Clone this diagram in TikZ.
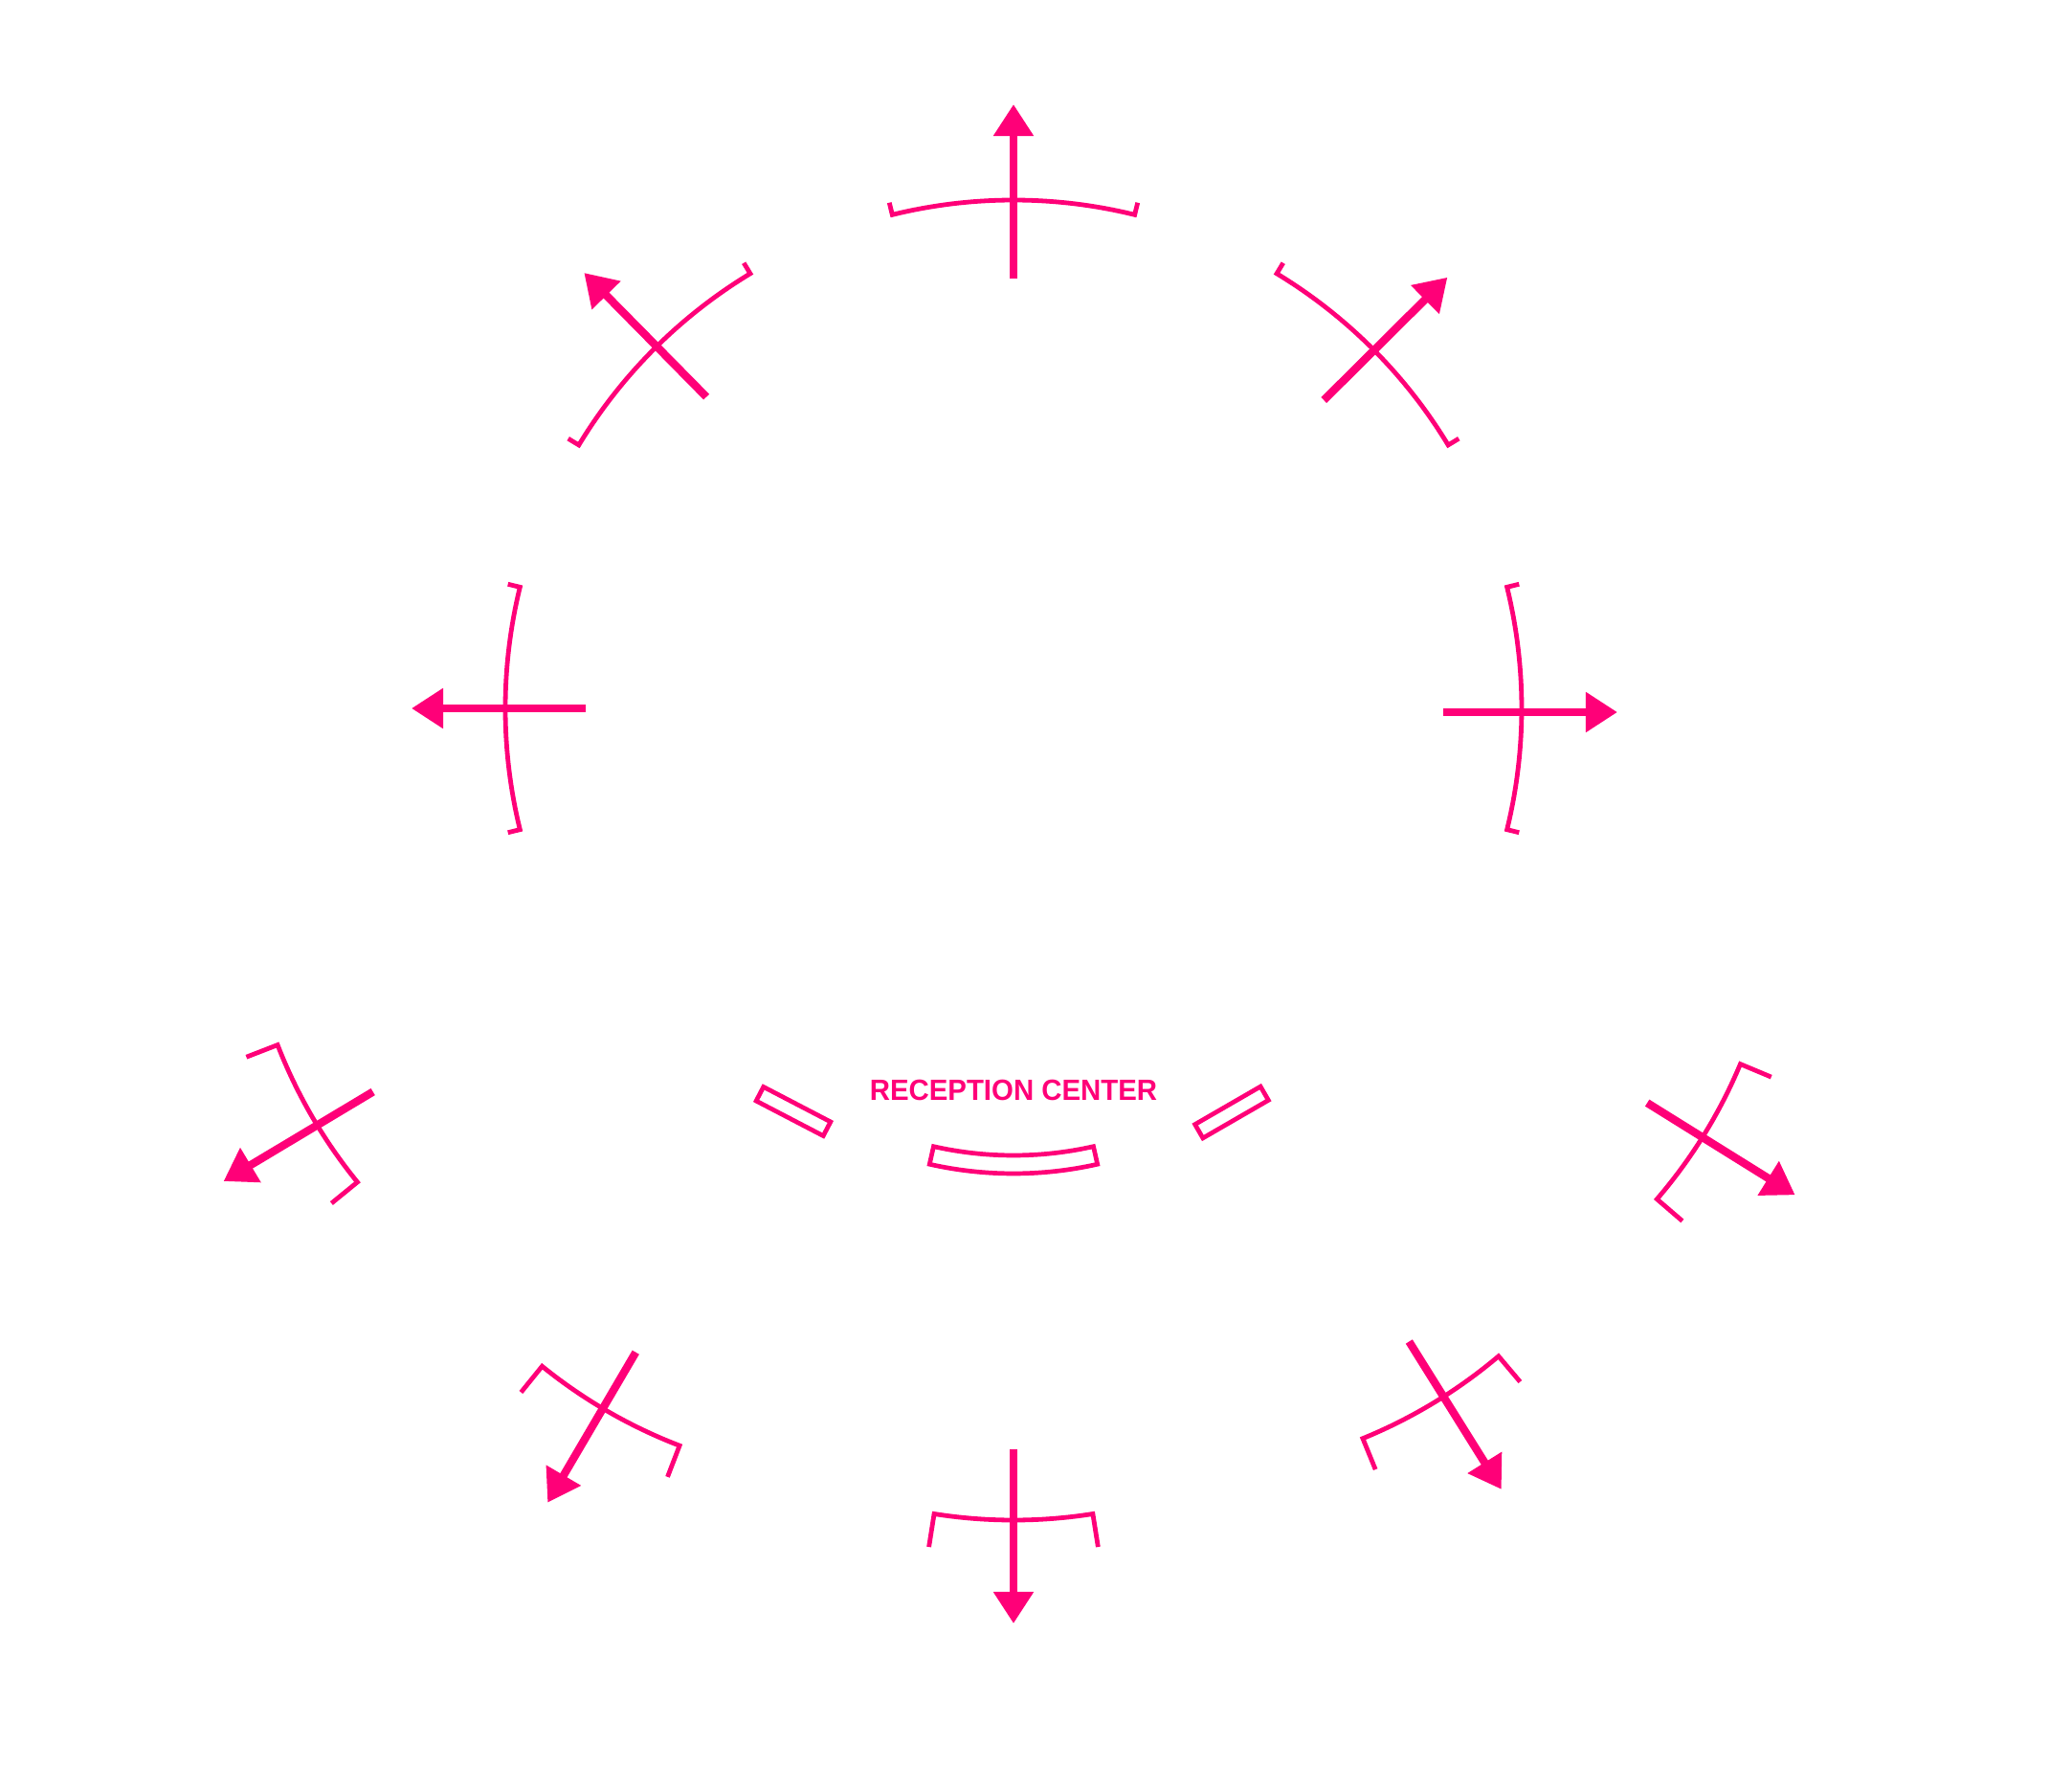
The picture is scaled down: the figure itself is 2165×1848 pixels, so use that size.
\documentclass[tikz,border=0pt]{standalone}
\usepackage{fontspec}
\setmainfont{Liberation Sans}
\usepackage{graphicx}
\usepackage{tikz}
\usetikzlibrary{arrows.meta}
\definecolor{exitpink}{HTML}{FF0078}

\begin{document}
\begin{tikzpicture}[x=0.01cm, y=0.01cm,
    >={Triangle[length=3.3mm, width=4mm]},
    wall/.style={draw=exitpink, line width=0.48mm},
    exit/.style={draw=exitpink, fill=exitpink, line width=0.83mm, ->},
    door/.style={draw=exitpink, line width=0.47mm, minimum width=7.9mm, minimum height=1.65mm, inner sep=0pt},
    lbl/.style={text=exitpink, font=\bfseries\fontsize{8.7}{10}\selectfont, inner sep=0pt}]
  \useasboundingbox (-1059,-1108) rectangle (1106,740);
  % inner ring of exits
  \foreach \a/\b/\o/\t/\h in {90/90/0/449/631, 135/134.6/0/457/639, 45/44.8/0/457/639, 180/180/0/447/629, 0/0/-4/449/631} {
    \draw[wall] (\a-13.8:544) -- (\a-13.8:531) arc[start angle=\a-13.8, end angle=\a+13.8, radius=531] -- (\a+13.8:544);
    \draw[exit, shift={(0,\o)}] (\b:\t) -- (\b:\h);
  }
  % outer ring of exits
  \foreach \a/\b/\t/\h in {210.2/210.9/780/962, 240/239.6/780/962, 270/270/774/956, 301.2/302/780/962, 328.3/328.1/780/962} {
    \draw[wall, shift={(\a:318)}] (\a-9:565) -- (\a-9:530) arc[start angle=\a-9, end angle=\a+9, radius=530] -- (\a+9:565);
    \draw[exit] (\b:\t) -- (\b:\h);
  }
  \node[lbl] (reception) at (0,-399) {\scalebox{0.96}[1]{RECEPTION CENTER}};
  \node[door, rotate=-27.5] (doorW) at (-230,-421) {};
  \node[door, rotate=30] (doorE) at (228,-422) {};
  \draw[wall, line width=0.47mm, shift={(0,-87)}] (257.3:380) arc[start angle=257.3, end angle=282.7, radius=380]
    -- (282.7:399) arc[start angle=282.7, end angle=257.3, radius=399] -- cycle;
\end{tikzpicture}
\end{document}
